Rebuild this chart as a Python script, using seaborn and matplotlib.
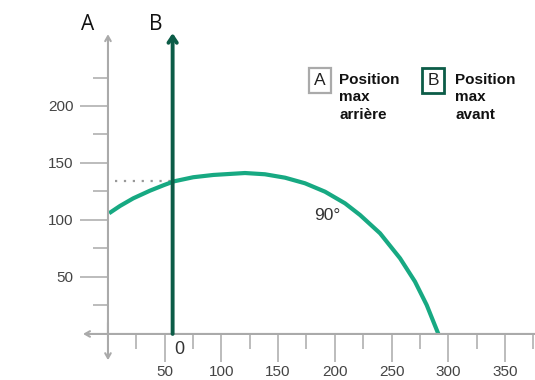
import numpy as np
import pandas as pd
import matplotlib
matplotlib.use("Agg")
import matplotlib.pyplot as plt
from matplotlib.ticker import FixedLocator
import seaborn as sns

# courbe 90°
curve_x = [1, 10.6, 22.3, 37, 48.8, 58.2, 75.2, 92.9, 107.6, 120.8, 138.4,
           156.1, 173.7, 191.4, 209, 222.2, 239.9, 257.5, 270.7, 281, 291.3]
curve_y = [105.9, 112.3, 119, 125.7, 130.4, 133.9, 137.5, 139.5, 140.4, 141.2,
           140.1, 137.1, 132.2, 124.8, 114.6, 104.4, 88.3, 66.4, 45.9, 25.4, 0]

pos_B = 57          # position max avant (ligne B)
y_B = 133.9         # hauteur au croisement
y_ticks_major = [50, 100, 150, 200]
y_ticks_minor = [25, 75, 125, 175, 225]
x_ticks_major = [50, 100, 150, 200, 250, 300, 350]
x_ticks_minor = [25, 75, 125, 175, 225, 275, 325, 375]

GREEN = "#17a982"
DARK = "#0c5c47"
GREY = "#aaaaaa"

sns.set_style("white")
plt.rcParams['font.family'] = ['Liberation Sans', 'DejaVu Sans']

fig = plt.figure(figsize=(5.35, 3.8), dpi=100)
ax = fig.add_axes([0, 0, 1, 1])
ax.set_xlim(-95.2, 376.5)
ax.set_ylim(-40.4, 293)

df = pd.DataFrame({'x': curve_x, 'y': curve_y})
sns.lineplot(data=df, x='x', y='y', ax=ax, color=GREEN, lw=3, sort=False,
             solid_capstyle='butt', solid_joinstyle='round')

# axes avec fleches
arr = dict(arrowstyle='->,head_length=0.35,head_width=0.2', color=GREY, lw=1.5,
           shrinkA=0, shrinkB=0)
ax.annotate('', xy=(0, 263), xytext=(0, 0), arrowprops=arr)
ax.annotate('', xy=(0, -23), xytext=(0, 10), arrowprops=arr)
ax.annotate('', xy=(-22, 0), xytext=(376.5, 0), arrowprops=arr)

# ligne B
ax.annotate('', xy=(pos_B, 264), xytext=(pos_B, 0),
            arrowprops=dict(arrowstyle='->,head_length=0.45,head_width=0.3',
                            color=DARK, lw=2.8, shrinkA=0, shrinkB=0))
ax.plot([6, pos_B], [y_B, y_B], ls=(0, (1, 3)), color='#999999', lw=1.6, zorder=1)

for s in ax.spines.values():
    s.set_visible(False)
ax.spines['left'].set_position(('data', 0))
ax.spines['bottom'].set_position(('data', 0))

ax.yaxis.set_major_locator(FixedLocator(y_ticks_major))
ax.yaxis.set_minor_locator(FixedLocator(y_ticks_minor))
ax.xaxis.set_major_locator(FixedLocator(x_ticks_major))
ax.xaxis.set_minor_locator(FixedLocator(x_ticks_minor))
ax.tick_params(axis='both', which='major', direction='out', length=20, width=1.1,
               color=GREY, labelsize=11, labelcolor='#444444')
ax.tick_params(axis='both', which='minor', direction='out', length=10.5, width=1.1,
               color=GREY)
ax.tick_params(axis='y', which='major', pad=5)
ax.tick_params(axis='x', which='major', pad=2)
ax.tick_params(left=True, bottom=True, which='both')
ax.set_xlabel('')
ax.set_ylabel('')

ax.text(pos_B + 1, -14, '0', fontsize=13, color='#333333', ha='left', va='center')
ax.text(193, 104, '90°', fontsize=12.5, color='#333333', ha='center', va='center')

fig.text(88 / 535, 1 - 25 / 380, 'A', family='Open Sans', fontsize=15,
         ha='center', va='center', color='#111111')
fig.text(156 / 535, 1 - 25 / 380, 'B', family='Open Sans', fontsize=15,
         ha='center', va='center', color='#111111')

# legende
fig.text(320 / 535, 1 - 80.5 / 380, 'A', fontsize=12.5, ha='center', va='center',
         color='#222222',
         bbox=dict(boxstyle='square,pad=0.3', fc='white', ec=GREY, lw=1.6))
fig.text(339 / 535, 1 - 73 / 380, 'Position\nmax\narrière',
         fontweight='bold', fontsize=11, ha='left', va='top', linespacing=1.3,
         color='#111111')
fig.text(433 / 535, 1 - 80.5 / 380, 'B', fontsize=12.5, ha='center', va='center',
         color='#222222',
         bbox=dict(boxstyle='square,pad=0.3', fc='white', ec=DARK, lw=2))
fig.text(455 / 535, 1 - 73 / 380, 'Position\nmax\navant',
         fontweight='bold', fontsize=11, ha='left', va='top', linespacing=1.3,
         color='#111111')

fig.savefig('out.png', dpi=100)
